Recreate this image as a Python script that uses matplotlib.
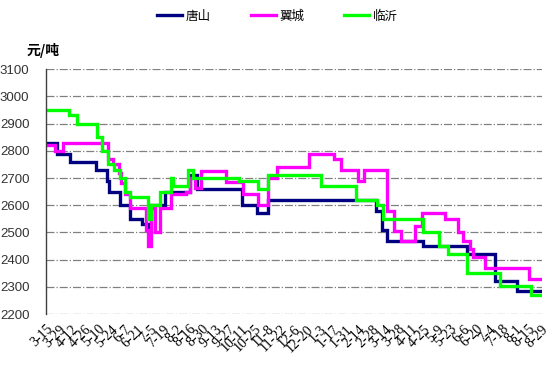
import matplotlib
matplotlib.use("Agg")
import matplotlib.pyplot as plt
import pandas as pd

# ---- data (change points: price in effect from that date) ----
ts_dates = ["2012-03-15", "2012-03-27", "2012-04-10", "2012-05-08", "2012-05-19",
            "2012-05-22", "2012-06-02", "2012-06-13", "2012-06-26", "2012-07-03",
            "2012-07-06", "2012-07-21", "2012-08-17", "2012-08-24", "2012-10-12",
            "2012-10-28", "2012-11-08", "2013-03-04", "2013-03-11", "2013-03-16",
            "2013-04-24", "2013-06-10", "2013-07-10", "2013-08-03", "2013-08-29"]
ts_values = [2830, 2790, 2760, 2730, 2690,
             2650, 2600, 2550, 2530, 2510,
             2600, 2650, 2710, 2660, 2600,
             2570, 2620, 2580, 2510, 2470,
             2450, 2420, 2320, 2285, 2285]

jc_dates = ["2012-03-15", "2012-03-25", "2012-04-02", "2012-05-20", "2012-05-26",
            "2012-06-01", "2012-06-04", "2012-06-08", "2012-06-13", "2012-06-30",
            "2012-07-03", "2012-07-06", "2012-07-10", "2012-07-15", "2012-07-27",
            "2012-08-12", "2012-08-17", "2012-08-22", "2012-08-28", "2012-09-24",
            "2012-10-13", "2012-10-29", "2012-11-08", "2012-11-18", "2012-12-22",
            "2013-01-18", "2013-01-26", "2013-02-13", "2013-02-19", "2013-03-16",
            "2013-03-24", "2013-03-31", "2013-04-15", "2013-04-23", "2013-05-18",
            "2013-05-31", "2013-06-06", "2013-06-13", "2013-06-17", "2013-06-29",
            "2013-08-16", "2013-08-29"]
jc_values = [2820, 2800, 2830, 2770, 2750,
             2720, 2680, 2640, 2590, 2510,
             2450, 2590, 2500, 2590, 2640,
             2650, 2700, 2665, 2725, 2685,
             2640, 2600, 2700, 2740, 2790,
             2770, 2730, 2690, 2730, 2580,
             2505, 2470, 2525, 2570, 2550,
             2500, 2470, 2440, 2410, 2370,
             2330, 2330]

ly_dates = ["2012-03-15", "2012-04-09", "2012-04-17", "2012-05-09", "2012-05-14",
            "2012-05-20", "2012-05-27", "2012-06-02", "2012-06-08", "2012-06-13",
            "2012-07-02", "2012-07-06", "2012-07-15", "2012-07-27", "2012-07-29",
            "2012-08-15", "2012-08-20", "2012-10-08", "2012-10-29", "2012-11-08",
            "2013-01-04", "2013-02-11", "2013-03-06", "2013-03-12", "2013-04-24",
            "2013-05-11", "2013-05-21", "2013-06-10", "2013-07-16", "2013-08-18",
            "2013-08-29"]
ly_values = [2950, 2930, 2900, 2850, 2800,
             2750, 2730, 2700, 2650, 2630,
             2550, 2600, 2650, 2700, 2670,
             2730, 2700, 2690, 2660, 2710,
             2670, 2620, 2600, 2550, 2500,
             2450, 2420, 2350, 2305, 2270,
             2270]

series_names = ["唐山", "翼城", "临沂"]
series_colors = ["#000080", "#FF00FF", "#00FF00"]

tick_labels = ["3-15", "3-29", "4-12", "4-26", "5-10", "5-24", "6-7", "6-21", "7-5",
               "7-19", "8-2", "8-16", "8-30", "9-13", "9-27", "10-11", "10-25", "11-8",
               "11-22", "12-6", "12-20", "1-3", "1-17", "1-31", "2-14", "2-28", "3-14",
               "3-28", "4-11", "4-25", "5-9", "5-23", "6-6", "6-20", "7-4", "7-18",
               "8-1", "8-15", "8-29"]
tick_start = "2012-03-15"
y_ticks = [2200, 2300, 2400, 2500, 2600, 2700, 2800, 2900, 3000, 3100]

plt.rcParams['font.family'] = ['Noto Sans CJK SC', 'DejaVu Sans']

fig = plt.figure(figsize=(5.55, 3.78), dpi=100)
ax = fig.add_axes([0.083, 0.169, 0.894, 0.648])

for d, v, name, c in zip([ts_dates, jc_dates, ly_dates],
                         [ts_values, jc_values, ly_values],
                         series_names, series_colors):
    ax.plot(pd.to_datetime(d), v, drawstyle="steps-post", color=c, lw=2.4,
            label=name, solid_joinstyle="miter")

ticks = pd.date_range(tick_start, periods=len(tick_labels), freq="14D")
ax.set_xticks(ticks)
ax.set_xticklabels(tick_labels, rotation=45, ha="right", va="top",
                   rotation_mode="anchor", family="Liberation Serif", fontsize=10)
ax.set_xlim(ticks[0], ticks[-1] + pd.Timedelta(days=1))

ax.set_ylim(2200, 3100)
ax.set_yticks(y_ticks)
ax.set_yticklabels([str(v) for v in y_ticks], family="Liberation Sans", fontsize=9.5,
                   color="#333333")
ax.yaxis.grid(True, linestyle="-.", color="#808080", lw=0.9)
ax.set_axisbelow(True)
ax.tick_params(axis="x", length=0, pad=6)
ax.tick_params(axis="y", length=0, pad=12)
for s in ["top", "right", "bottom"]:
    ax.spines[s].set_visible(False)
ax.spines["left"].set_color("#404040")
ax.spines["left"].set_linewidth(1.0)

fig.text(27 / 555, 1 - 50 / 378, "元/吨", fontsize=10, fontweight="bold",
         va="center", ha="left")

fig.legend(loc="center", bbox_to_anchor=(0.5, 1 - 16 / 378), ncol=3, frameon=False,
           fontsize=9, handlelength=2.0, handletextpad=0.3, columnspacing=3.2)

fig.savefig("out.png", dpi=100)
